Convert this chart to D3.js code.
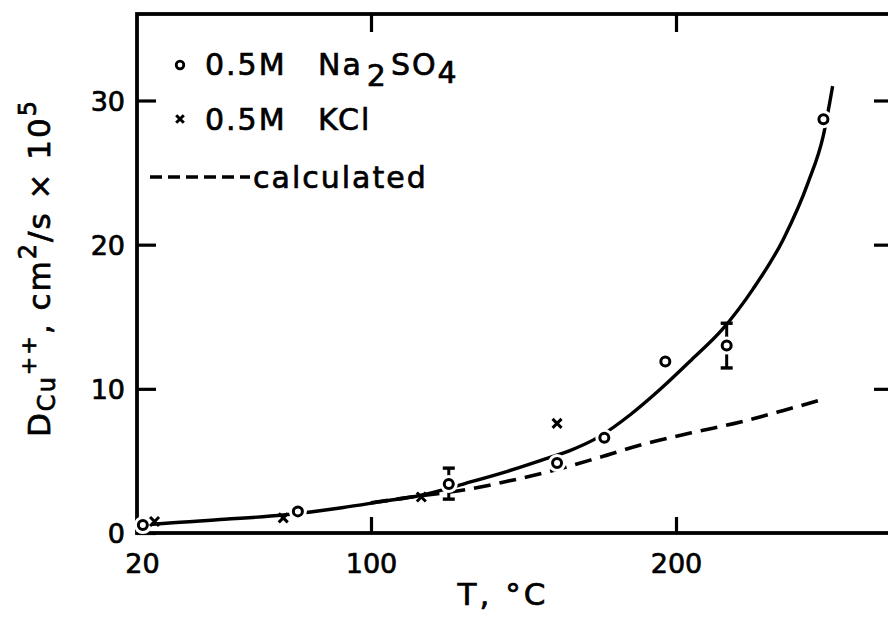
<!DOCTYPE html>
<html lang="en">
<head>
<meta charset="utf-8">
<title>D Cu++ vs T</title>
<script src="https://d3js.org/d3.v7.min.js"></script>
<style>
  body { margin: 0; background: #fff; }
  svg { display: block; font-family: "DejaVu Sans", sans-serif; }
  svg text { stroke: #000; stroke-width: 0.7px; fill: #000; }
  .frame { fill: none; stroke: #000; stroke-width: 3.8; }
  .axis path { display: none; }
  .axis line { stroke: #000; stroke-width: 3.2; }
  .axis text { font-family: "DejaVu Sans", sans-serif; font-size: 27px; }
</style>
</head>
<body>
<div class="chart"></div>
<script>
// tick labels
var xTicks = [20, 100, 200];
var yTicks = [0, 10, 20, 30];

// 0.5M Na2SO4 (circles)
var naT = [22, 75, 125.5, 161, 176.5, 196.5, 216.5, 248];
var naD = [0.55, 1.5, 3.4, 4.85, 6.6, 11.9, 13.0, 28.7];
// error bars on two of the circles
var errT = [125.5, 216.5];
var errLo = [2.35, 11.45];
var errHi = [4.5, 14.55];

// 0.5M KCl (crosses)
var kclT = [26, 70, 116.5, 161];
var kclD = [0.8, 1.05, 2.5, 7.6];

// solid fitted curve
var fitT = [22, 30, 50, 70, 90, 104, 116, 131, 145, 158, 165, 175, 185, 195, 205, 215, 225, 235, 243, 248, 251];
var fitD = [0.55, 0.68, 0.95, 1.25, 1.75, 2.2, 2.6, 3.45, 4.3, 5.2, 5.7, 6.7, 8.2, 10.0, 12.0, 14.1, 16.9, 20.4, 24.3, 27.6, 31.0];

// calculated (dashed)
var calcT = [100, 117, 131, 145, 161, 175, 190, 205, 221, 235, 249];
var calcD = [2.1, 2.6, 3.0, 3.6, 4.4, 5.25, 6.2, 6.95, 7.7, 8.5, 9.35];

var width = 888, height = 618;

var x = d3.scaleLinear()
    .domain([20, 100, 200, 270])
    .range([137, 371, 676, 891]);

var y = d3.scaleLinear()
    .domain([0, 36])
    .range([533, 14]);

var svg = d3.select(".chart").append("svg")
    .attr("width", width)
    .attr("height", height);

var x0 = x.range()[0], x1 = x.range()[3], y0 = y.range()[0], y1 = y.range()[1];

// axes, ticks pointing inward
svg.append("g").attr("class", "axis")
    .attr("transform", "translate(0," + y0 + ")")
    .call(d3.axisBottom(x).tickValues(xTicks).tickSizeInner(-16).tickSizeOuter(0).tickPadding(14))
    .selectAll("text").attr("dy", "0.95em").attr("dx", function(d){ return d == 20 ? 5 : 0; });

svg.append("g").attr("class", "axis")
    .attr("transform", "translate(0," + y1 + ")")
    .call(d3.axisTop(x).tickValues([100, 200]).tickSizeInner(-18).tickSizeOuter(0).tickFormat(""));

svg.append("g").attr("class", "axis")
    .attr("transform", "translate(" + x0 + ",0)")
    .call(d3.axisLeft(y).tickValues(yTicks).tickSizeInner(-19).tickSizeOuter(0).tickPadding(12))
    .selectAll("text").attr("dy", "0.36em");

svg.append("g").attr("class", "axis")
    .attr("transform", "translate(" + x1 + ",0)")
    .call(d3.axisRight(y).tickValues([10, 20, 30]).tickSizeInner(-17).tickSizeOuter(0).tickFormat(""));

svg.append("rect").attr("class", "frame")
    .attr("x", x0).attr("y", y1)
    .attr("width", x1 - x0).attr("height", y0 - y1);

var line = d3.line()
    .x(function(d){ return x(d[0]); })
    .y(function(d){ return y(d[1]); })
    .curve(d3.curveMonotoneX);

svg.append("path")
    .datum(d3.zip(calcT, calcD))
    .attr("d", line)
    .attr("fill", "none").attr("stroke", "#000")
    .attr("stroke-width", 3.6).attr("stroke-dasharray", "17,9");

svg.append("path")
    .datum(d3.zip(fitT, fitD))
    .attr("d", line)
    .attr("fill", "none").attr("stroke", "#000")
    .attr("stroke-width", 3.4);

// error bars
var err = d3.zip(errT, errLo, errHi);
svg.selectAll(".eb").data(err).enter().append("g").attr("class", "eb")
  .each(function(d){
    var g = d3.select(this);
    g.append("line").attr("x1", x(d[0])).attr("x2", x(d[0]))
      .attr("y1", y(d[1])).attr("y2", y(d[2]))
      .attr("stroke", "#000").attr("stroke-width", 3);
    [d[1], d[2]].forEach(function(v){
      g.append("line").attr("x1", x(d[0]) - 6).attr("x2", x(d[0]) + 6)
        .attr("y1", y(v)).attr("y2", y(v))
        .attr("stroke", "#000").attr("stroke-width", 3.4);
    });
  });

// circles with a white halo to break the curve
var na = d3.zip(naT, naD);
svg.selectAll(".halo").data(na).enter().append("circle")
    .attr("cx", function(d){ return x(d[0]); })
    .attr("cy", function(d){ return y(d[1]); })
    .attr("r", 9).attr("fill", "#fff");
svg.selectAll(".na").data(na).enter().append("circle")
    .attr("cx", function(d){ return x(d[0]); })
    .attr("cy", function(d){ return y(d[1]); })
    .attr("r", 4.5).attr("fill", "#fff")
    .attr("stroke", "#000").attr("stroke-width", 3);

function cross(g, cx, cy, s) {
  g.append("path")
    .attr("d", "M" + (cx - s) + "," + (cy - s) + "L" + (cx + s) + "," + (cy + s) +
               "M" + (cx - s) + "," + (cy + s) + "L" + (cx + s) + "," + (cy - s))
    .attr("stroke", "#000").attr("stroke-width", 3).attr("fill", "none");
}
d3.zip(kclT, kclD).forEach(function(d){ cross(svg, x(d[0]), y(d[1]), 4.5); });

// legend
var lg = svg.append("g")
    .style("font-size", "30px").style("letter-spacing", "2px");

lg.append("circle").attr("cx", 180).attr("cy", 65).attr("r", 3.8)
    .attr("fill", "#fff").attr("stroke", "#000").attr("stroke-width", 2.8);
lg.append("text").attr("x", 205).attr("y", 75).text("0.5M");
var t1 = lg.append("text").attr("x", 318).attr("y", 75);
t1.append("tspan").text("Na");
t1.append("tspan").attr("dy", 11).attr("dx", 4).text("2");
t1.append("tspan").attr("dy", -11).attr("dx", 3).text("SO");
t1.append("tspan").attr("dy", 8).text("4");

cross(lg, 180, 119, 3.8);
lg.append("text").attr("x", 205).attr("y", 130).text("0.5M");
lg.append("text").attr("x", 318).attr("y", 130).text("KCl");

lg.append("line").attr("x1", 150).attr("x2", 250).attr("y1", 177).attr("y2", 177)
    .attr("stroke", "#000").attr("stroke-width", 3.4).attr("stroke-dasharray", "12,6");
lg.append("text").attr("x", 253).attr("y", 188).text("calculated");

// axis titles
svg.append("text")
    .attr("x", 503).attr("y", 605)
    .attr("text-anchor", "middle")
    .style("font-size", "31px").style("letter-spacing", "3px")
    .text("T,  \u00B0C");

var yt = svg.append("text")
    .attr("transform", "translate(50,437) rotate(-90)")
    .style("font-size", "31px").style("letter-spacing", "2px");
yt.append("tspan").text("D");
yt.append("tspan").attr("dy", 5).style("font-size", "24px").text("Cu");
yt.append("tspan").attr("dy", -19).style("font-size", "22px").text("++");
yt.append("tspan").attr("dy", 14).text(",  cm");
yt.append("tspan").attr("dy", -14).style("font-size", "24px").text("2");
yt.append("tspan").attr("dy", 14).text("/s  \u00D7  10");
yt.append("tspan").attr("dy", -14).style("font-size", "24px").text("5");
</script>
</body>
</html>
